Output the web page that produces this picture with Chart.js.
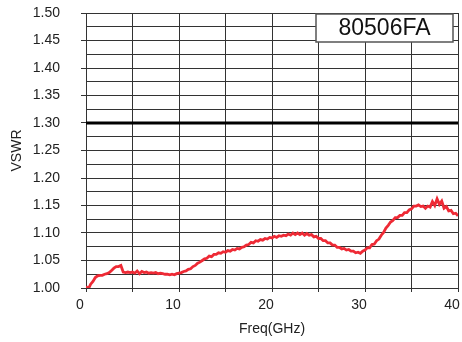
<!DOCTYPE html>
<html>
<head>
<meta charset="utf-8">
<script src="https://cdn.jsdelivr.net/npm/chart.js@4/dist/chart.umd.min.js"></script>
<style>
  html,body{margin:0;padding:0;background:#fff}
  #wrap{width:462px;height:342px;position:relative}
</style>
</head>
<body>
<div id="wrap"><canvas id="c" width="462" height="342"></canvas></div>
<script>
// ── VSWR sweep 80506FA ──
const FREQ_STEP=0.25;   // GHz between samples, 0..40
const vswr=[
  1.003,0.998,1.007,1.012,1.019,1.022,1.023,1.023,1.025,1.026,
  1.028,1.032,1.036,1.039,1.039,1.041,1.029,1.028,1.029,1.028,
  1.029,1.027,1.031,1.026,1.030,1.028,1.029,1.027,1.028,1.027,
  1.028,1.026,1.027,1.026,1.025,1.025,1.024,1.025,1.024,1.026,
  1.027,1.028,1.030,1.031,1.034,1.035,1.039,1.041,1.045,1.047,
  1.050,1.053,1.054,1.058,1.057,1.061,1.061,1.064,1.063,1.066,
  1.065,1.068,1.067,1.070,1.069,1.072,1.071,1.074,1.075,1.078,
  1.079,1.083,1.082,1.086,1.085,1.088,1.087,1.090,1.089,1.092,
  1.091,1.094,1.092,1.095,1.094,1.096,1.095,1.098,1.096,1.100,
  1.097,1.100,1.097,1.100,1.096,1.099,1.096,1.097,1.093,1.094,
  1.090,1.090,1.086,1.086,1.082,1.082,1.078,1.078,1.074,1.074,
  1.071,1.072,1.069,1.070,1.067,1.067,1.064,1.065,1.063,1.067,
  1.069,1.073,1.073,1.079,1.080,1.086,1.089,1.096,1.101,1.109,
  1.114,1.120,1.123,1.128,1.128,1.132,1.132,1.137,1.137,1.142,
  1.144,1.149,1.149,1.151,1.148,1.149,1.145,1.149,1.147,1.157,
  1.150,1.162,1.152,1.158,1.145,1.148,1.140,1.141,1.135,1.136,
  1.131
];
const limitLine=[{x:0,y:1.30},{x:40,y:1.30}];
const xTickLabels=['0','10','20','30','40'];
const yTickLabels=['1.00','1.05','1.10','1.15','1.20','1.25','1.30','1.35','1.40','1.45','1.50'];
const partNo='80506FA';

const pts=vswr.map((v,i)=>({x:i*FREQ_STEP,y:v}));
const FONT='"Liberation Sans", Arial, sans-serif';
const GRID='#333';

// part-number box in the top-right corner of the plot
const labelBox={
  id:'labelBox',
  afterDatasetsDraw(chart){
    const {ctx,chartArea:a}=chart;
    const x0=a.right-142,y0=a.top+1,w=137,h=28;
    ctx.save();
    ctx.fillStyle='#fff';ctx.fillRect(x0,y0,w,h);
    ctx.strokeStyle='#555';ctx.lineWidth=1.5;ctx.strokeRect(x0,y0,w,h);
    ctx.fillStyle='#111';ctx.font='23px '+FONT;
    ctx.textAlign='center';ctx.textBaseline='middle';
    ctx.fillText(partNo,x0+w/2,y0+h/2+1);
    ctx.restore();
  }
};

new Chart(document.getElementById('c'),{
  type:'line',
  data:{datasets:[
    {data:pts,borderColor:'#ee2a35',borderWidth:2.8,pointRadius:0,tension:0,order:1},
    {data:limitLine,borderColor:'#000',borderWidth:3,pointRadius:0,order:2}
  ]},
  options:{
    responsive:false,animation:false,
    layout:{padding:{left:0,top:13,right:4,bottom:0}},
    plugins:{legend:{display:false},tooltip:{enabled:false}},
    scales:{
      x:{type:'linear',min:0,max:40,
        afterFit:s=>{s.height=54;s.paddingLeft=0;s.paddingRight=0},
        ticks:{stepSize:5,autoSkip:false,maxRotation:0,color:'#222',font:{family:FONT,size:14},padding:5,labelOffset:-6,
          callback:v=>v%10===0?xTickLabels[v/10]:''},
        grid:{color:GRID,lineWidth:1,tickLength:4,tickColor:GRID},
        border:{color:GRID,width:1},
        title:{display:true,text:'Freq(GHz)',color:'#222',font:{family:FONT,size:14},padding:{top:0,bottom:4}}
      },
      y:{min:1.0,max:1.5,
        afterFit:s=>{s.width=86;s.paddingTop=0;s.paddingBottom=0},
        ticks:{stepSize:0.025,autoSkip:false,color:'#222',font:{family:FONT,size:14},padding:21,
          callback:(v,i)=>i%2===0?yTickLabels[i/2]:''},
        grid:{color:GRID,lineWidth:1,tickLength:5,
          tickColor:ctx=>ctx.index%2===0?GRID:'rgba(0,0,0,0)'},
        border:{color:GRID,width:1},
        title:{display:true,text:'VSWR',color:'#222',font:{family:FONT,size:14},padding:{top:9,bottom:0}}
      }
    }
  },
  plugins:[labelBox]
});
</script>
</body>
</html>
